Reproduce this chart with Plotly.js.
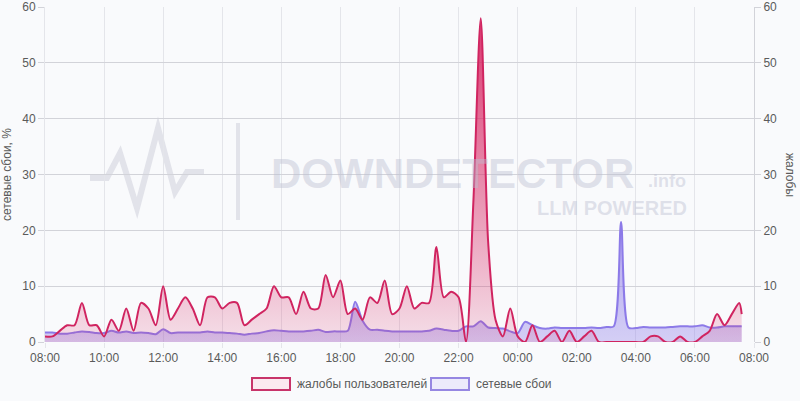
<!DOCTYPE html>
<html>
<head>
<meta charset="utf-8">
<script src="https://cdn.plot.ly/plotly-3.0.1.min.js"></script>
<style>
html,body{margin:0;padding:0;background:#f9fafc;}
#chart{width:800px;height:401px;}
</style>
</head>
<body>
<div id="chart"></div>
<script>
// 15-minute samples starting 08:00, plus the last partial sample at 07:35
const startTime = '2024-01-01 08:00';
const stepMinutes = 15;
const lastTime = '2024-01-02 07:35';

// жалобы пользователей (right axis)
const complaints = [1,1,2,3,3,7,3,3,1,4,2,6,2,7,6,3,10,4,6,8,6,3,8,8,6,7,7,3,4,5,6,10,
  8,8,5,9,6,6,12,8,11,5,6,4,8,7,11,5,6,10,6,7,7,17,8,9,8,0,25,58,18,4,1,6,1,0,
  3,0,1,2,0,2,0,1,2,0,0,0,0,0,0,0,1,1,0,0,1,0,0,1,2,5,3,5,7,5];

// сетевые сбои, % (left axis)
const outages = [1.7,1.7,1.5,1.5,1.7,1.9,1.8,1.6,1.6,2.0,1.7,1.9,1.6,1.7,1.6,1.4,2.3,1.6,1.7,1.7,
  1.7,1.7,1.9,1.7,1.7,1.6,1.5,1.3,1.5,1.6,1.9,2.1,2.0,1.9,1.9,1.9,2.0,2.2,1.8,1.9,1.9,2.0,
  7.2,3.8,2.2,2.2,2.0,1.9,1.9,1.9,1.9,1.9,2.0,2.4,2.2,2.0,2.0,2.8,2.8,3.7,2.6,2.5,2.4,1.9,
  1.6,3.6,3.0,2.5,2.4,2.6,2.5,2.5,2.5,2.5,2.6,2.5,2.7,2.8,21.5,2.6,2.5,2.7,2.6,2.6,2.6,2.7,
  2.8,2.8,2.8,3.0,2.6,2.6,2.8,2.8,2.8,2.8];

const xTickLabels = ['08:00','10:00','12:00','14:00','16:00','18:00','20:00','22:00','00:00','02:00','04:00','06:00','08:00'];
const seriesNames = ['жалобы пользователей', 'сетевые сбои'];

function buildTimes(n) {
  const t0 = new Date(startTime.replace(' ', 'T') + ':00Z').getTime();
  const out = [];
  for (let i = 0; i < n; i++) {
    if (i === n - 1) { out.push(lastTime); break; }
    out.push(new Date(t0 + i * stepMinutes * 60000).toISOString().slice(0, 16).replace('T', ' '));
  }
  return out;
}
const times = buildTimes(complaints.length);
const tickVals = xTickLabels.map((_, i) => {
  const t0 = new Date(startTime.replace(' ', 'T') + ':00Z').getTime();
  return new Date(t0 + i * 2 * 3600000).toISOString().slice(0, 16).replace('T', ' ');
});

const PINK = 'rgb(208,36,96)';
const BLUE = 'rgb(140,122,232)';
const GRID_H = '#d2d3d9';
const GRID_V = '#e4e5ea';
const TXT = '#5a5a5a';
const WM = 'rgba(188,191,210,0.44)';

const traces = [
  { x: times, y: complaints, yaxis: 'y2', type: 'scatter', mode: 'lines',
    line: { width: 0, shape: 'spline', smoothing: 0.8, color: PINK },
    fill: 'tozeroy',
    fillgradient: { type: 'vertical', start: 0, stop: 60,
      colorscale: [[0, 'rgba(216,40,100,0.13)'], [0.2, 'rgba(216,40,100,0.3)'], [1, 'rgba(216,40,100,0.95)']] },
    hoverinfo: 'skip', showlegend: false },
  { x: times, y: outages, yaxis: 'y', type: 'scatter', mode: 'lines',
    line: { width: 0, shape: 'spline', smoothing: 0.8, color: BLUE },
    fill: 'tozeroy',
    fillgradient: { type: 'vertical', start: 0, stop: 25,
      colorscale: [[0, 'rgba(140,122,232,0.34)'], [1, 'rgba(140,122,232,0.72)']] },
    hoverinfo: 'skip', showlegend: false },
  { x: times, y: complaints, yaxis: 'y2', type: 'scatter', mode: 'lines', name: seriesNames[0],
    line: { width: 2, shape: 'spline', smoothing: 0.8, color: PINK }, showlegend: false },
  { x: times, y: outages, yaxis: 'y', type: 'scatter', mode: 'lines', name: seriesNames[1],
    line: { width: 2, shape: 'spline', smoothing: 0.8, color: BLUE }, showlegend: false }
];

// helpers to place decorations in paper coordinates from pixel positions
const L = 45, R = 754, T = 7, B = 342;
const px = v => (v - L) / (R - L);
const py = v => (B - v) / (B - T);

const pulse = [[90,178],[107,178],[120,153],[137,208],[158,128],[175,192],[187,172],[204,172]];
const pulsePath = pulse.map((p, i) => (i ? 'L' : 'M') + px(p[0]).toFixed(4) + ',' + py(p[1]).toFixed(4)).join(' ');

const layout = {
  width: 800, height: 401,
  margin: { l: 45, r: 46, t: 7, b: 59 },
  paper_bgcolor: '#f9fafc', plot_bgcolor: '#f9fafc',
  font: { family: 'Liberation Sans, Arial, sans-serif', size: 12, color: TXT },
  showlegend: false,
  xaxis: {
    type: 'date', range: [tickVals[0], tickVals[tickVals.length - 1]],
    tickmode: 'array', tickvals: tickVals, ticktext: xTickLabels,
    showgrid: true, gridcolor: GRID_V, gridwidth: 1,
    ticks: 'outside', ticklen: 5, tickcolor: GRID_V,
    zeroline: false, showline: false, fixedrange: true,
    tickfont: { size: 12, color: TXT }
  },
  yaxis: {
    range: [0, 60], dtick: 10, tick0: 0,
    showgrid: true, gridcolor: GRID_H, gridwidth: 1,
    ticks: 'outside', ticklen: 6, tickcolor: GRID_H,
    showline: true, linecolor: GRID_V, zeroline: false,
    tickfont: { size: 12, color: TXT },
    title: { text: 'сетевые сбои, %', font: { size: 12, color: TXT }, standoff: 9 }
  },
  yaxis2: {
    range: [0, 60], dtick: 10, tick0: 0, overlaying: 'y', side: 'right',
    showgrid: false, ticks: 'outside', ticklen: 6, tickcolor: GRID_H,
    showline: true, linecolor: GRID_H, zeroline: false,
    tickfont: { size: 12, color: TXT }
  },
  shapes: [
    { type: 'path', xref: 'paper', yref: 'paper', path: pulsePath, layer: 'below',
      line: { color: '#e2e3ea', width: 6 } },
    { type: 'line', xref: 'paper', yref: 'paper', x0: px(238), x1: px(238), y0: py(123), y1: py(220),
      layer: 'below', line: { color: '#e2e3ea', width: 4 } },
    // legend boxes
    { type: 'rect', xref: 'paper', yref: 'paper', x0: px(252), x1: px(290), y0: py(390), y1: py(378),
      line: { color: 'rgb(200,52,106)', width: 2 }, fillcolor: '#fbe9f0' },
    { type: 'rect', xref: 'paper', yref: 'paper', x0: px(431), x1: px(469), y0: py(390), y1: py(378),
      line: { color: 'rgb(150,135,226)', width: 2 }, fillcolor: '#ecebfb' }
  ],
  annotations: [
    { xref: 'paper', yref: 'paper', x: px(452), y: py(173), text: '<b>DOWNDETECTOR</b>', showarrow: false, borderpad: 0,
      xanchor: 'center', yanchor: 'middle', font: { family: 'Liberation Sans, Arial, sans-serif', size: 42, color: WM } },
    { xref: 'paper', yref: 'paper', x: px(647), y: py(181), text: '<b>.info</b>', showarrow: false, borderpad: 0,
      xanchor: 'left', yanchor: 'middle', font: { family: 'Liberation Sans, Arial, sans-serif', size: 18, color: WM } },
    { xref: 'paper', yref: 'paper', x: px(688), y: py(208), text: '<b>LLM POWERED</b>', showarrow: false, borderpad: 0,
      xanchor: 'right', yanchor: 'middle', font: { family: 'Liberation Sans, Arial, sans-serif', size: 20, color: WM } },
    { xref: 'paper', yref: 'paper', x: px(790), y: py(175), text: 'жалобы', showarrow: false, textangle: 90,
      xanchor: 'center', yanchor: 'middle', font: { size: 12, color: TXT } },
    // legend labels
    { xref: 'paper', yref: 'paper', x: px(295), y: py(384), text: seriesNames[0], showarrow: false,
      xanchor: 'left', yanchor: 'middle', font: { size: 12, color: TXT } },
    { xref: 'paper', yref: 'paper', x: px(474), y: py(384), text: seriesNames[1], showarrow: false,
      xanchor: 'left', yanchor: 'middle', font: { size: 12, color: TXT } }
  ]
};

Plotly.newPlot('chart', traces, layout, { displayModeBar: false, staticPlot: true });
</script>
</body>
</html>
